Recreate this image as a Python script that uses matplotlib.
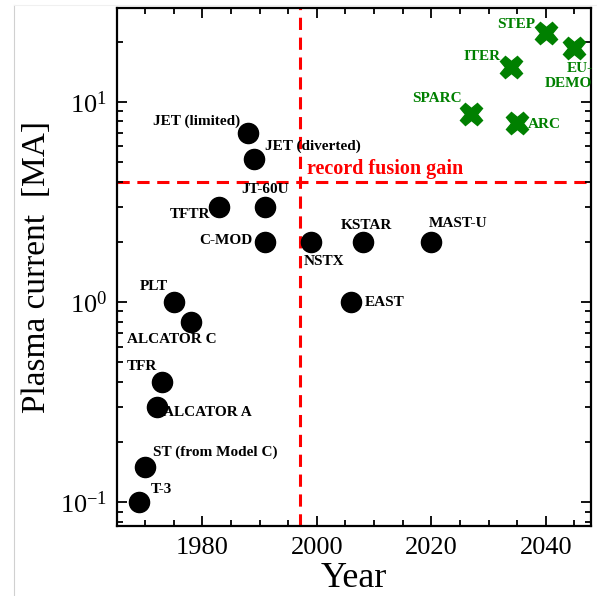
import matplotlib
matplotlib.use("Agg")
import matplotlib.pyplot as plt
from matplotlib.lines import Line2D
from matplotlib.ticker import MultipleLocator, LogLocator, NullFormatter

plt.rcParams['font.family'] = ['Liberation Serif', 'DejaVu Serif']
plt.rcParams['mathtext.fontset'] = 'stix'

# existing machines: name, year, plasma current [MA]
names = ["T-3", "ST (from Model C)", "ALCATOR A", "TFR", "PLT", "ALCATOR C",
         "TFTR", "JT-60U", "C-MOD", "JET (limited)", "JET (diverted)",
         "NSTX", "KSTAR", "MAST-U", "EAST"]
years = [1969, 1970, 1972, 1973, 1975, 1978, 1983, 1991, 1991, 1988, 1989,
         1999, 2008, 2020, 2006]
current = [0.1, 0.15, 0.3, 0.4, 1.0, 0.8, 3.0, 3.0, 2.0, 7.0, 5.2,
           2.0, 2.0, 2.0, 1.0]

# future devices
fut_names = ["SPARC", "ARC", "ITER", "STEP", "EU-\nDEMO"]
fut_years = [2027, 2035, 2034, 2040, 2045]
fut_current = [8.7, 7.8, 15.0, 22.0, 18.5]

record_year = 1997
record_current = 4.0

# label offsets (points) and alignment
offsets = {
    "T-3": ((8, 9), "left"),
    "ST (from Model C)": ((6, 11), "left"),
    "ALCATOR A": ((5, -4), "left"),
    "TFR": ((-4, 11), "right"),
    "PLT": ((-4, 11), "right"),
    "ALCATOR C": ((-14, -13), "center"),
    "TFTR": ((-7, -6), "right"),
    "JT-60U": ((0, 12), "center"),
    "C-MOD": ((-9, 1), "right"),
    "JET (limited)": ((-6, 8), "right"),
    "JET (diverted)": ((8, 9), "left"),
    "NSTX": ((-5, -14), "left"),
    "KSTAR": ((3, 12), "center"),
    "MAST-U": ((-2, 13), "left"),
    "EAST": ((10, 0), "left"),
}
fut_offsets = {
    "SPARC": ((-7, 11), "right"),
    "ARC": ((8, -1), "left"),
    "ITER": ((-8, 7), "right"),
    "STEP": ((-8, 6), "right"),
    "EU-\nDEMO": ((13, -20), "right"),
}

fig = plt.figure(figsize=(5.97, 5.96), dpi=100)
ax = fig.add_axes([0.196, 0.117, 0.794, 0.870])

# faint frame lines of the original picture
fig.add_artist(Line2D([0.024, 0.024], [0, 0.992], color="#d0d0d0", lw=0.8))
fig.add_artist(Line2D([0.024, 1], [0.992, 0.992], color="#f0f0f0", lw=0.8))

ax.axvline(record_year, color="red", ls="--", lw=2.2, dashes=(4, 2.5), zorder=1)
ax.axhline(record_current, color="red", ls="--", lw=2.2, dashes=(4, 2.5), zorder=1)

ax.plot(years, current, "o", color="black", ms=14.5, zorder=3)
ax.plot(fut_years, fut_current, "X", color="green", ms=16, mec="green", zorder=3)

for n, x, y in zip(names, years, current):
    (dx, dy), ha = offsets[n]
    ax.annotate(n, (x, y), xytext=(dx, dy), textcoords="offset points",
                ha=ha, va="center", fontsize=11, fontweight="bold", color="black")

for n, x, y in zip(fut_names, fut_years, fut_current):
    (dx, dy), ha = fut_offsets[n]
    ax.annotate(n, (x, y), xytext=(dx, dy), textcoords="offset points",
                ha=ha, va="center", fontsize=11, fontweight="bold", color="green",
                multialignment="right", linespacing=1.25)

ax.text(1998.2, 4.6, "record fusion gain", color="red", fontsize=14.5,
        fontweight="bold", ha="left", va="center")

ax.set_yscale("log")
ax.set_xlim(1965.1, 2047.9)
ax.set_ylim(0.076, 29.5)

ax.xaxis.set_major_locator(MultipleLocator(20))
ax.xaxis.set_minor_locator(MultipleLocator(5))
ax.yaxis.set_major_locator(LogLocator(base=10))
ax.yaxis.set_minor_locator(LogLocator(base=10, subs=range(2, 10)))
ax.yaxis.set_minor_formatter(NullFormatter())

ax.tick_params(which="both", direction="in", top=True, right=True, width=1.3)
ax.tick_params(which="major", length=7, labelsize=19)
ax.tick_params(which="minor", length=4)
ax.tick_params(axis="x", pad=8)
ax.tick_params(axis="y", pad=7)
for s in ax.spines.values():
    s.set_linewidth(1.6)

ax.set_xlabel("Year", fontsize=26, labelpad=2)
ax.set_ylabel("Plasma current  [MA]", fontsize=24, labelpad=6)

fig.savefig("out.png", dpi=100)
